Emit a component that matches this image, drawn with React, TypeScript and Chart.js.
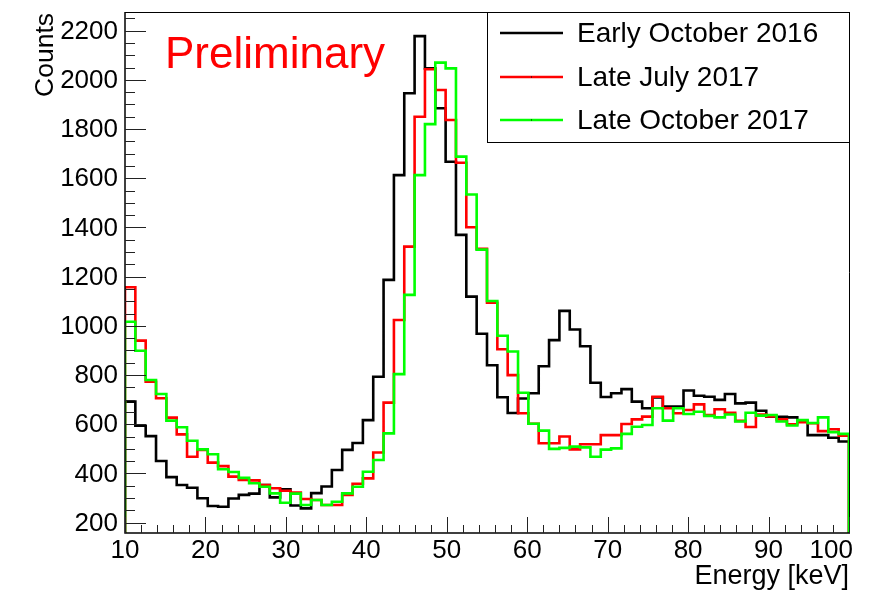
import React, { useEffect, useRef } from "react";
import { Chart, registerables } from "chart.js";

Chart.register(...registerables);

// ---- data ----
const X_MIN = 10;
const X_MAX = 100;
const BIN_WIDTH = 90 / 70; // keV per bin
const Y_MIN = 158;
const Y_MAX = 2276;

const seriesNames = ["Early October 2016", "Late July 2017", "Late October 2017"];
const seriesColors = ["#000000", "#ff0000", "#00ff00"];

const earlyOct2016 = [
  692, 594, 552, 451, 385, 353, 342, 299, 268, 265,
  298, 313, 318, 353, 303, 336, 270, 258, 320, 347,
  414, 496, 524, 617, 793, 1187, 1613, 1946, 2178, 2047,
  1885, 1667, 1370, 1119, 968, 840, 710, 646, 705, 726,
  836, 942, 1061, 985, 917, 769, 711, 726, 743, 692,
  665, 709, 672, 672, 737, 716, 712, 699, 723, 685,
  688, 655, 631, 630, 628, 611, 556, 556, 545, 530,
];

const lateJul2017 = [
  1157, 940, 773, 706, 627, 559, 468, 496, 444, 430,
  387, 374, 372, 353, 340, 330, 322, 296, 292, 272,
  272, 313, 358, 380, 485, 688, 1024, 1322, 1850, 2043,
  1959, 1837, 1663, 1401, 1313, 1094, 905, 800, 645, 602,
  523, 523, 550, 498, 519, 519, 556, 556, 601, 620,
  631, 712, 665, 645, 658, 681, 638, 661, 647, 614,
  589, 640, 632, 620, 600, 608, 604, 572, 580, 554,
];

const lateOct2017 = [
  1017, 899, 780, 723, 615, 588, 533, 498, 478, 417,
  406, 382, 360, 346, 319, 281, 318, 272, 292, 272,
  285, 319, 346, 407, 455, 563, 804, 1126, 1613, 1820,
  2070, 2047, 1688, 1534, 1310, 1101, 960, 896, 728, 602,
  574, 500, 504, 509, 506, 468, 497, 502, 561, 590,
  597, 665, 615, 665, 642, 651, 634, 628, 640, 611,
  647, 635, 638, 611, 595, 617, 605, 628, 568, 561,
];

const yTickLabels = [200, 400, 600, 800, 1000, 1200, 1400, 1600, 1800, 2000, 2200];
const yMinorStep = 50;
const xTickLabels = [10, 20, 30, 40, 50, 60, 70, 80, 90, 100];
const xMinorStep = 2;

const xTitle = "Energy [keV]";
const yTitle = "Counts";
const stampText = "Preliminary";

const FONT = '"Liberation Sans", Arial, Helvetica, sans-serif';

function histPoints(values: number[]) {
  const pts: { x: number; y: number }[] = [{ x: X_MIN, y: Y_MIN }];
  values.forEach((v, i) => pts.push({ x: X_MIN + i * BIN_WIDTH, y: v }));
  pts.push({ x: X_MAX, y: values[values.length - 1] });
  pts.push({ x: X_MAX, y: Y_MIN });
  return pts;
}

const framePlugin = {
  id: "rootFrame",
  beforeDatasetsDraw(chart: any) {
    const { ctx, chartArea: a } = chart;
    ctx.save();
    ctx.strokeStyle = "#000";
    ctx.lineWidth = 1;
    ctx.beginPath();
    ctx.moveTo(a.left, a.top + 0.5);
    ctx.lineTo(a.right + 0.5, a.top + 0.5);
    ctx.lineTo(a.right + 0.5, a.bottom);
    ctx.stroke();
    ctx.restore();
  },
  afterDatasetsDraw(chart: any) {
    const { ctx, chartArea: a } = chart;
    const xs = chart.scales.x;
    const ys = chart.scales.y;
    ctx.save();

    // axes lines
    ctx.strokeStyle = "#000";
    ctx.lineWidth = 1.5;
    ctx.beginPath();
    ctx.moveTo(a.left, a.top);
    ctx.lineTo(a.left, a.bottom);
    ctx.lineTo(a.right + 1, a.bottom);
    ctx.stroke();

    // y ticks
    ctx.lineWidth = 1;
    ctx.strokeStyle = "#222";
    const yMinors: number[] = [];
    for (let i = 0; i < yTickLabels.length; i++) {
      const m = yTickLabels[i];
      for (let k = 1; k < 4; k++) yMinors.push(m + k * yMinorStep);
      if (i === 0) yMinors.push(m - yMinorStep);
    }
    ctx.beginPath();
    yTickLabels.forEach((v) => {
      const py = Math.round(ys.getPixelForValue(v)) + 0.5;
      ctx.moveTo(a.left, py);
      ctx.lineTo(a.left + 21, py);
    });
    yMinors.forEach((v) => {
      if (v < Y_MIN || v > Y_MAX) return;
      const py = Math.round(ys.getPixelForValue(v)) + 0.5;
      ctx.moveTo(a.left, py);
      ctx.lineTo(a.left + 10, py);
    });
    // x ticks
    xTickLabels.forEach((v) => {
      const px = Math.round(xs.getPixelForValue(v)) + 0.5;
      ctx.moveTo(px, a.bottom);
      ctx.lineTo(px, a.bottom - 16);
    });
    xTickLabels.forEach((m) => {
      for (let k = 1; k < 5; k++) {
        const v = m + k * xMinorStep;
        if (v > X_MAX) continue;
        const px = Math.round(xs.getPixelForValue(v)) + 0.5;
        ctx.moveTo(px, a.bottom);
        ctx.lineTo(px, a.bottom - 8);
      }
    });
    ctx.stroke();

    // tick labels
    ctx.fillStyle = "#000";
    ctx.font = `26px ${FONT}`;
    ctx.textAlign = "right";
    ctx.textBaseline = "middle";
    yTickLabels.forEach((v) => {
      ctx.fillText(String(v), 118, ys.getPixelForValue(v) + 1);
    });
    ctx.textBaseline = "alphabetic";
    xTickLabels.forEach((v, i) => {
      const px = xs.getPixelForValue(v);
      if (i === xTickLabels.length - 1) {
        ctx.textAlign = "right";
        ctx.fillText(String(v), px + 4, 558);
      } else {
        ctx.textAlign = "center";
        ctx.fillText(String(v), px, 558);
      }
    });

    // axis titles
    ctx.font = `27px ${FONT}`;
    ctx.textAlign = "right";
    ctx.fillText(xTitle, a.right, 584);
    ctx.font = `26.5px ${FONT}`;
    ctx.save();
    ctx.translate(53, a.top + 1);
    ctx.rotate(-Math.PI / 2);
    ctx.textAlign = "right";
    ctx.fillText(yTitle, 0, 0);
    ctx.restore();

    // Preliminary stamp
    ctx.fillStyle = "#ff0000";
    ctx.font = `44px ${FONT}`;
    ctx.textAlign = "left";
    ctx.fillText(stampText, 165, 68);

    // legend
    const lx0 = 487, ly0 = 12, lx1 = 849, ly1 = 142;
    ctx.fillStyle = "#fff";
    ctx.fillRect(lx0, ly0, lx1 - lx0, ly1 - ly0);
    ctx.strokeStyle = "#000";
    ctx.lineWidth = 1;
    ctx.strokeRect(lx0 + 0.5, ly0 + 0.5, lx1 - lx0, ly1 - ly0);
    const rowY = [33, 77, 120];
    ctx.font = `28px ${FONT}`;
    ctx.textBaseline = "middle";
    seriesNames.forEach((name, i) => {
      ctx.strokeStyle = seriesColors[i];
      ctx.lineWidth = 2.5;
      ctx.beginPath();
      ctx.moveTo(500, rowY[i]);
      ctx.lineTo(563, rowY[i]);
      ctx.stroke();
      if (i > 0) {
        ctx.fillStyle = "#000";
        ctx.fillRect(531, rowY[i] - 0.5, 1, 1);
      }
      ctx.fillStyle = "#000";
      ctx.fillText(name, 577, rowY[i] + 1);
    });

    ctx.restore();
  },
};

export default function App() {
  const canvasRef = useRef<HTMLCanvasElement | null>(null);

  useEffect(() => {
    if (!canvasRef.current) return;
    const seriesValues = [earlyOct2016, lateJul2017, lateOct2017];
    const chart = new Chart(canvasRef.current, {
      type: "line",
      data: {
        datasets: seriesValues.map((vals, i) => ({
          label: seriesNames[i],
          data: histPoints(vals),
          borderColor: seriesColors[i],
          backgroundColor: seriesColors[i],
          borderWidth: 2.6,
          pointRadius: 0,
          stepped: "before" as const,
          fill: false,
          order: 3 - i,
          borderJoinStyle: "miter" as const,
        })),
      },
      options: {
        responsive: false,
        animation: false,
        devicePixelRatio: 1,
        parsing: true,
        layout: { padding: { left: 125, right: 23, top: 12, bottom: 59 } },
        plugins: { legend: { display: false }, tooltip: { enabled: false } },
        scales: {
          x: { type: "linear", min: X_MIN, max: X_MAX, display: false },
          y: { type: "linear", min: Y_MIN, max: Y_MAX, display: false },
        },
      },
      plugins: [framePlugin],
    });
    return () => chart.destroy();
  }, []);

  return (
    <div style={{ position: "absolute", left: 0, top: 0, width: 872, height: 592, background: "#fff" }}>
      <canvas ref={canvasRef} width={872} height={592} style={{ width: 872, height: 592, display: "block" }} />
    </div>
  );
}
